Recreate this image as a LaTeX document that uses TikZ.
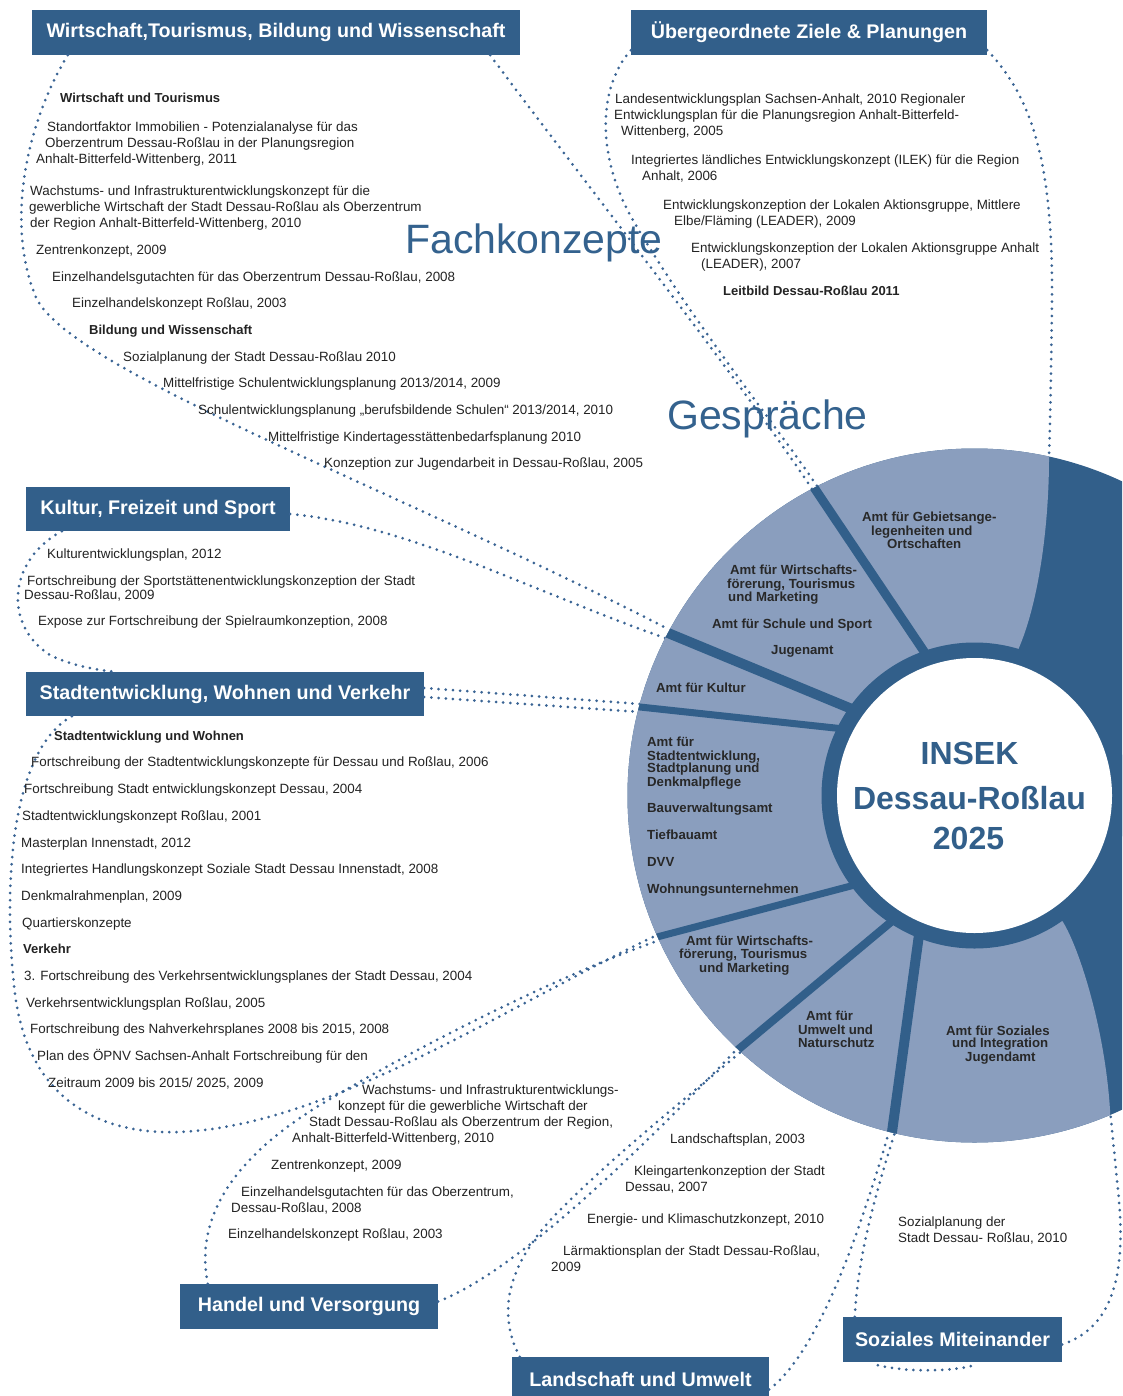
\documentclass[tikz,border=0pt]{standalone}
\usepackage{fontspec}
\setmainfont{Liberation Sans}
\usetikzlibrary{calc}
\definecolor{boxblue}{RGB}{50,95,138}
\definecolor{segblue}{RGB}{138,158,190}
\definecolor{dotblue}{RGB}{58,100,148}
\definecolor{txtgray}{RGB}{35,35,35}
\definecolor{segtext}{RGB}{40,40,40}
\definecolor{headblue}{RGB}{52,98,142}
\newcommand{\myfs}[2]{\fontsize{#1}{#2}\selectfont}
\newcommand{\mytl}[5]{\node[#1] (#2) at (#3,#4) {#5};}
\begin{document}
\begin{tikzpicture}[x=1pt,y=-1pt,
  titlebox/.style={fill=boxblue, text=white, font=\myfs{19.7}{22}\bfseries, inner sep=0pt},
  sm/.style={font=\myfs{13.4}{16}, text=txtgray, inner sep=0pt, anchor=base west, yshift=-4.8pt},
  smb/.style={sm, font=\myfs{13}{16}\bfseries},
  seg/.style={font=\myfs{13.2}{14}\bfseries, text=segtext, inner sep=0pt, anchor=base west, yshift=-4.7pt},
  big/.style={font=\myfs{41}{45}, text=headblue, inner sep=0pt, anchor=base west, yshift=-14.7pt},
  ctr/.style={font=\myfs{32}{36}\bfseries, text=boxblue, inner sep=0pt, anchor=base, yshift=-11.5pt},
  dots/.style={draw=dotblue, line width=3pt, line cap=round, dash pattern=on 0pt off 7.2pt},
  sepbar/.style={draw=boxblue, line cap=butt},
]
\clip (0,0) rectangle (1122,1396);
\fill[white] (0,0) rectangle (1122,1396);

% ---------- title boxes ----------
\node[titlebox, minimum width=488pt, minimum height=45pt] (b1) at (276,32.5) {Wirtschaft,Tourismus, Bildung und Wissenschaft};
\node[titlebox, minimum width=356pt, minimum height=45pt] (b2) at (809,32.5) {Übergeordnete Ziele \& Planungen};
\node[titlebox, minimum width=264pt, minimum height=44pt] (b3) at (158,509) {Kultur, Freizeit und Sport};
\node[titlebox, minimum width=398pt, minimum height=44pt] (b4) at (225,694) {Stadtentwicklung, Wohnen und Verkehr};
\node[titlebox, minimum width=258pt, minimum height=45pt] (b5) at (309,1306.5) {Handel und Versorgung};
\node[titlebox, minimum width=257pt, minimum height=45pt] (b6) at (640.5,1379.5) {Landschaft und Umwelt};
\node[titlebox, minimum width=219pt, minimum height=45pt] (b7) at (952.5,1339.5) {Soziales Miteinander};

% ---------- wheel coordinates ----------
\coordinate (C) at (974.5,795.5);
\coordinate (s1o) at (815,489);  \coordinate (s1i) at (921.7,648);
\coordinate (s2o) at (668,633);  \coordinate (s2i) at (847,707);
\coordinate (s3o) at (640,707);  \coordinate (s3i) at (835,728);
\coordinate (s4o) at (657,937);  \coordinate (s4i) at (847,887);
\coordinate (s5o) at (740,1048); \coordinate (s5i) at (885,927);
\coordinate (s6o) at (892,1132); \coordinate (s6i) at (918,942);
\coordinate (ub) at (1049,458);
\coordinate (lb) at (1110,1110);

% ---------- dotted connectors ----------
\draw[dots] ([xshift=36pt]b1.south west) .. controls (28,120) and (5,220) .. (35,295) .. controls (62,368) and (400,490) .. ([yshift=4pt]s2o);
\draw[dots] ([xshift=-30pt]b1.south east) .. controls (560,150) and (740,380) .. ([xshift=-3pt]s1o);
\draw[dots] ([yshift=5pt]b2.south west) .. controls (600,85) and (595,150) .. (630,215) .. controls (690,320) and (780,430) .. ([xshift=4pt]s1o);
\draw[dots] ([yshift=5pt]b2.south east) .. controls (1035,100) and (1053,170) .. (1052,300) .. controls (1051,380) and (1050,430) .. (ub);
\draw[dots] ([yshift=-5pt]b3.east) .. controls (410,525) and (540,595) .. ([yshift=-6pt]s2o);
\draw[dots] ([xshift=36pt]b3.south west) .. controls (8,560) and (3,625) .. (50,655) .. controls (70,665) and (95,670) .. ([xshift=90pt]b4.north west);
\draw[dots] ([yshift=6pt]b4.east) -- ([yshift=3pt]s3o);
\draw[dots] ([yshift=-3pt]b4.east) -- ([yshift=-5pt]s3o);
\draw[dots] ([xshift=46pt]b4.south west) .. controls (12,750) and (3,880) .. (14,985) .. controls (25,1100) and (100,1135) .. (180,1132) .. controls (330,1125) and (500,1010) .. ([yshift=2pt]s4o);
\draw[dots] ([xshift=28pt]b5.north west) .. controls (195,1220) and (230,1160) .. (320,1105) .. controls (420,1045) and (560,975) .. ([yshift=-4pt]s4o);
\draw[dots] ([yshift=5pt]b5.east) .. controls (520,1270) and (650,1140) .. ([xshift=-2pt]s5o);
\draw[dots] ([xshift=8pt]b6.north west) .. controls (495,1310) and (510,1260) .. (560,1210) .. controls (620,1150) and (690,1095) .. ([xshift=3pt,yshift=-2pt]s5o);
\draw[dots] ([yshift=-10pt]b6.east) .. controls (820,1350) and (860,1230) .. ([xshift=-3pt]s6o);
\draw[dots] ([xshift=12pt]b7.north west) .. controls (858,1250) and (880,1180) .. ([xshift=3pt]s6o);
\draw[dots] ([yshift=-5pt]b7.east) .. controls (1120,1325) and (1125,1260) .. (1118,1190) .. controls (1115,1160) and (1112,1130) .. (lb);
\draw[dots] ([xshift=35pt,yshift=-3pt]b7.south west) .. controls (905,1372) and (950,1372) .. ([xshift=132pt,yshift=-3pt]b7.south west);

% ---------- wheel ----------
\fill[boxblue] (C) circle[radius=347pt];
\begin{scope}
  \clip (ub) .. controls (1049,520) and (1040,600) .. (1018,650) -- (C) -- (1063,922) .. controls (1080,950) and (1105,1030) .. (lb) -- (1110,1400) -- (-10,1400) -- (-10,-10) -- (1049,-10) -- cycle;
  \fill[segblue] (C) circle[radius=347pt];
\end{scope}
\begin{scope}
  \clip (C) circle[radius=347pt];
  \draw[sepbar, line width=9pt]  ($(s1i)!1.1!(s1o)$) -- ($(s1o)!1.1!(s1i)$);
  \draw[sepbar, line width=10pt] ($(s2i)!1.1!(s2o)$) -- ($(s2o)!1.1!(s2i)$);
  \draw[sepbar, line width=7pt]  ($(s3i)!1.1!(s3o)$) -- ($(s3o)!1.1!(s3i)$);
  \draw[sepbar, line width=7pt]  ($(s4i)!1.1!(s4o)$) -- ($(s4o)!1.1!(s4i)$);
  \draw[sepbar, line width=8pt]  ($(s5i)!1.1!(s5o)$) -- ($(s5o)!1.1!(s5i)$);
  \draw[sepbar, line width=10pt] ($(s6i)!1.1!(s6o)$) -- ($(s6o)!1.1!(s6i)$);
\end{scope}
\fill[boxblue] (C) circle[radius=153pt];
\fill[white] (C) circle[radius=137.5pt];

% ---------- centre ----------
\node[ctr] (ins) at (969.5,753) {INSEK};
\node[ctr] (dr) at (969.5,798) {Dessau-Roßlau};
\node[ctr] (yr) at (968.5,838) {2025};

% ---------- segment labels ----------
\mytl{seg}{g1}{862}{517}{Amt für Gebietsange-}
\mytl{seg}{g2}{871}{531}{legenheiten und}
\mytl{seg}{g3}{887}{544}{Ortschaften}
\mytl{seg}{wa1}{730}{570}{Amt für Wirtschafts-}
\mytl{seg}{wa2}{727}{584}{förerung, Tourismus}
\mytl{seg}{wa3}{728}{597}{und Marketing}
\mytl{seg}{sch}{712}{624}{Amt für Schule und Sport}
\mytl{seg}{jug}{771}{650}{Jugenamt}
\mytl{seg}{kul}{656}{688}{Amt für Kultur}
\mytl{seg}{sa1}{647}{742}{Amt für}
\mytl{seg}{sa2}{647}{756}{Stadtentwicklung,}
\mytl{seg}{sa3}{647}{768}{Stadtplanung und}
\mytl{seg}{sa4}{647}{782}{Denkmalpflege}
\mytl{seg}{bau}{647}{808}{Bauverwaltungsamt}
\mytl{seg}{tief}{647}{835}{Tiefbauamt}
\mytl{seg}{dvv}{647}{862}{DVV}
\mytl{seg}{woh}{647}{889}{Wohnungsunternehmen}
\mytl{seg}{wb1}{686}{941}{Amt für Wirtschafts-}
\mytl{seg}{wb2}{679}{954}{förerung, Tourismus}
\mytl{seg}{wb3}{699}{968}{und Marketing}
\mytl{seg}{um1}{806}{1016}{Amt für}
\mytl{seg}{um2}{798}{1030}{Umwelt und}
\mytl{seg}{um3}{798}{1043}{Naturschutz}
\mytl{seg}{so1}{946}{1031}{Amt für Soziales}
\mytl{seg}{so2}{952}{1043}{und Integration}
\mytl{seg}{so3}{965}{1057}{Jugendamt}

% ---------- big words ----------
\node[big] (fach) at (405,239) {Fachkonzepte};
\node[big] (gesp) at (667,415) {Gespräche};

% ---------- Wirtschaft block ----------
\mytl{smb}{w0}{60}{98}{Wirtschaft und Tourismus}
\mytl{sm}{w1}{47}{127}{Standortfaktor Immobilien - Potenzialanalyse für das}
\mytl{sm}{w2}{45}{143}{Oberzentrum Dessau-Roßlau in der Planungsregion}
\mytl{sm}{w3}{36}{159}{Anhalt-Bitterfeld-Wittenberg, 2011}
\mytl{sm}{w4}{30}{191}{Wachstums- und Infrastrukturentwicklungskonzept für die}
\mytl{sm}{w5}{29}{207}{gewerbliche Wirtschaft der Stadt Dessau-Roßlau als Oberzentrum}
\mytl{sm}{w6}{30}{223}{der Region Anhalt-Bitterfeld-Wittenberg, 2010}
\mytl{sm}{w7}{36}{250}{Zentrenkonzept, 2009}
\mytl{sm}{w8}{52}{277}{Einzelhandelsgutachten für das Oberzentrum Dessau-Roßlau, 2008}
\mytl{sm}{w9}{72}{303}{Einzelhandelskonzept Roßlau, 2003}
\mytl{smb}{w10}{89}{330}{Bildung und Wissenschaft}
\mytl{sm}{w11}{123}{357}{Sozialplanung der Stadt Dessau-Roßlau 2010}
\mytl{sm}{w12}{163}{383}{Mittelfristige Schulentwicklungsplanung 2013/2014, 2009}
\mytl{sm}{w13}{198}{410}{Schulentwicklungsplanung „berufsbildende Schulen“ 2013/2014, 2010}
\mytl{sm}{w14}{268}{437}{Mittelfristige Kindertagesstättenbedarfsplanung 2010}
\mytl{sm}{w15}{324}{463}{Konzeption zur Jugendarbeit in Dessau-Roßlau, 2005}

% ---------- Uebergeordnete block ----------
\mytl{sm}{u1}{615}{99}{Landesentwicklungsplan Sachsen-Anhalt, 2010 Regionaler}
\mytl{sm}{u2}{614}{115}{Entwicklungsplan für die Planungsregion Anhalt-Bitterfeld-}
\mytl{sm}{u3}{621}{131}{Wittenberg, 2005}
\mytl{sm}{u4}{631}{160}{Integriertes ländliches Entwicklungskonzept (ILEK) für die Region}
\mytl{sm}{u5}{642}{176}{Anhalt, 2006}
\mytl{sm}{u6}{663}{205}{Entwicklungskonzeption der Lokalen Aktionsgruppe, Mittlere}
\mytl{sm}{u7}{674}{221}{Elbe/Fläming (LEADER), 2009}
\mytl{sm}{u8}{691}{248}{Entwicklungskonzeption der Lokalen Aktionsgruppe Anhalt}
\mytl{sm}{u9}{701}{264}{(LEADER), 2007}
\mytl{smb}{u10}{723}{291}{Leitbild Dessau-Roßlau 2011}

% ---------- Kultur block ----------
\mytl{sm}{k1}{47}{554}{Kulturentwicklungsplan, 2012}
\mytl{sm}{k2}{27}{581}{Fortschreibung der Sportstättenentwicklungskonzeption der Stadt}
\mytl{sm}{k3}{24}{595}{Dessau-Roßlau, 2009}
\mytl{sm}{k4}{38}{621}{Expose zur Fortschreibung der Spielraumkonzeption, 2008}

% ---------- Stadtentwicklung block ----------
\mytl{smb}{st0}{54}{736}{Stadtentwicklung und Wohnen}
\mytl{sm}{st1}{31}{762}{Fortschreibung der Stadtentwicklungskonzepte für Dessau und Roßlau, 2006}
\mytl{sm}{st2}{24}{789}{Fortschreibung Stadt entwicklungskonzept Dessau, 2004}
\mytl{sm}{st3}{22}{816}{Stadtentwicklungskonzept Roßlau, 2001}
\mytl{sm}{st4}{21}{843}{Masterplan Innenstadt, 2012}
\mytl{sm}{st5}{21}{869}{Integriertes Handlungskonzept Soziale Stadt Dessau Innenstadt, 2008}
\mytl{sm}{st6}{21}{896}{Denkmalrahmenplan, 2009}
\mytl{sm}{st7}{22}{923}{Quartierskonzepte}
\mytl{smb}{st8}{23}{949}{Verkehr}
\mytl{sm}{st9}{24}{976}{3. Fortschreibung des Verkehrsentwicklungsplanes der Stadt Dessau, 2004}
\mytl{sm}{st10}{26}{1003}{Verkehrsentwicklungsplan Roßlau, 2005}
\mytl{sm}{st11}{30}{1029}{Fortschreibung des Nahverkehrsplanes 2008 bis 2015, 2008}
\mytl{sm}{st12}{37}{1056}{Plan des ÖPNV Sachsen-Anhalt Fortschreibung für den}
\mytl{sm}{st13}{48}{1083}{Zeitraum 2009 bis 2015/ 2025, 2009}

% ---------- Handel block ----------
\mytl{sm}{h1}{362}{1090}{Wachstums- und Infrastrukturentwicklungs-}
\mytl{sm}{h2}{338}{1106}{konzept für die gewerbliche Wirtschaft der}
\mytl{sm}{h3}{309}{1122}{Stadt Dessau-Roßlau als Oberzentrum der Region,}
\mytl{sm}{h4}{292}{1138}{Anhalt-Bitterfeld-Wittenberg, 2010}
\mytl{sm}{h5}{271}{1165}{Zentrenkonzept, 2009}
\mytl{sm}{h6}{241}{1192}{Einzelhandelsgutachten für das Oberzentrum,}
\mytl{sm}{h7}{231}{1208}{Dessau-Roßlau, 2008}
\mytl{sm}{h8}{228}{1234}{Einzelhandelskonzept Roßlau, 2003}

% ---------- Landschaft block ----------
\mytl{sm}{l1}{670}{1139}{Landschaftsplan, 2003}
\mytl{sm}{l2}{634}{1171}{Kleingartenkonzeption der Stadt}
\mytl{sm}{l3}{625}{1187}{Dessau, 2007}
\mytl{sm}{l4}{587}{1219}{Energie- und Klimaschutzkonzept, 2010}
\mytl{sm}{l5}{563}{1251}{Lärmaktionsplan der Stadt Dessau-Roßlau,}
\mytl{sm}{l6}{551}{1267}{2009}

% ---------- Soziales block ----------
\mytl{sm}{z1}{898}{1222}{Sozialplanung der}
\mytl{sm}{z2}{898}{1238}{Stadt Dessau- Roßlau, 2010}
\end{tikzpicture}
\end{document}
